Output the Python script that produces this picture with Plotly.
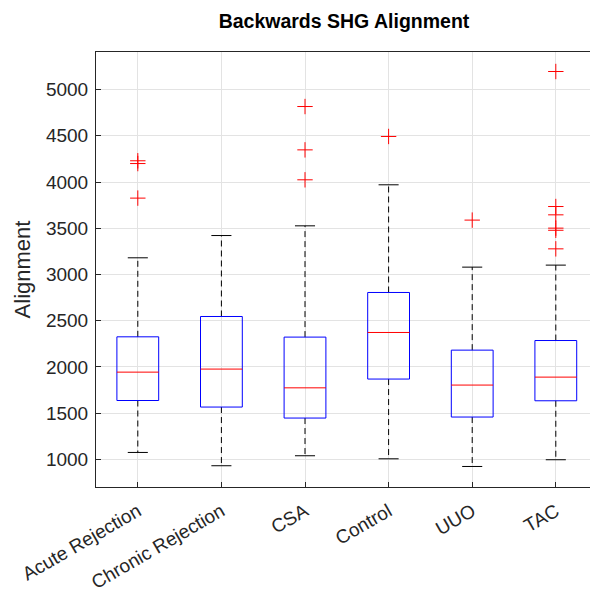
import plotly.graph_objects as go

categories = ["Acute Rejection", "Chronic Rejection", "CSA", "Control", "UUO", "TAC"]
lower_whisker = [1074, 930, 1038, 1005, 922, 995]
q1 = [1636, 1565, 1446, 1868, 1457, 1633]
median = [1943, 1976, 1773, 2372, 1803, 1889]
q3 = [2325, 2545, 2322, 2805, 2181, 2285]
upper_whisker = [3180, 3421, 3526, 3970, 3079, 3101]
outliers = [
    [4200, 4230, 3826],
    [],
    [4817, 4348, 4024],
    [4493],
    [3588],
    [5196, 3735, 3645, 3501, 3478, 3277],
]
y_ticks = [1000, 1500, 2000, 2500, 3000, 3500, 4000, 4500, 5000]

BOX_HALF = 0.25
CAP_HALF = 0.12
font_family = "Liberation Sans, Arial, sans-serif"

fig = go.Figure()

for i, name in enumerate(categories):
    x = i + 1
    fig.add_trace(go.Scatter(
        x=[x, x, None, x, x],
        y=[q3[i], upper_whisker[i], None, q1[i], lower_whisker[i]],
        mode="lines", line=dict(color="black", width=1, dash="6px,4px"),
        hoverinfo="skip", showlegend=False))
    fig.add_trace(go.Scatter(
        x=[x - CAP_HALF, x + CAP_HALF, None, x - CAP_HALF, x + CAP_HALF],
        y=[upper_whisker[i], upper_whisker[i], None, lower_whisker[i], lower_whisker[i]],
        mode="lines", line=dict(color="black", width=1),
        hoverinfo="skip", showlegend=False))
    fig.add_trace(go.Scatter(
        x=[x - BOX_HALF, x + BOX_HALF, x + BOX_HALF, x - BOX_HALF, x - BOX_HALF],
        y=[q1[i], q1[i], q3[i], q3[i], q1[i]],
        mode="lines", line=dict(color="blue", width=1),
        hoverinfo="skip", showlegend=False))
    fig.add_trace(go.Scatter(
        x=[x - BOX_HALF, x + BOX_HALF], y=[median[i], median[i]],
        mode="lines", line=dict(color="red", width=1),
        hoverinfo="skip", showlegend=False))
    if outliers[i]:
        fig.add_trace(go.Scatter(
            x=[x] * len(outliers[i]), y=outliers[i], mode="markers",
            marker=dict(symbol="cross-thin", size=11,
                        line=dict(color="red", width=1), color="red"),
            hoverinfo="skip", showlegend=False))

axis_color = "#262626"
fig.update_layout(
    width=590, height=594,
    margin=dict(l=96, r=0, t=52, b=107),
    paper_bgcolor="white", plot_bgcolor="white",
    font=dict(family=font_family, size=19, color=axis_color),
    title=dict(text="<b>Backwards SHG Alignment</b>", x=0.583, xanchor="center",
               y=0.965, yanchor="middle", font=dict(size=19.5, color="black")),
    xaxis=dict(
        range=[0.5, 6.409], tickmode="array", tickvals=list(range(1, 7)),
        ticktext=categories, tickangle=-30, showgrid=True, gridcolor="#e3e3e3",
        gridwidth=1, zeroline=False, showline=True, linecolor=axis_color,
        linewidth=1, mirror=True, ticks="inside", ticklen=5,
        tickcolor=axis_color, tickfont=dict(size=19, color=axis_color),
        ticklabelstandoff=5),
    yaxis=dict(
        range=[700, 5407], tickmode="array", tickvals=y_ticks,
        showgrid=True, gridcolor="#e3e3e3", gridwidth=1, zeroline=False,
        showline=True, linecolor=axis_color, linewidth=1, mirror=False,
        ticks="inside", ticklen=5, tickcolor=axis_color,
        tickfont=dict(size=19, color=axis_color), ticklabelstandoff=3,
        title=dict(text="Alignment", font=dict(size=22, color=axis_color), standoff=9)),
)

fig.write_html("out.html")
